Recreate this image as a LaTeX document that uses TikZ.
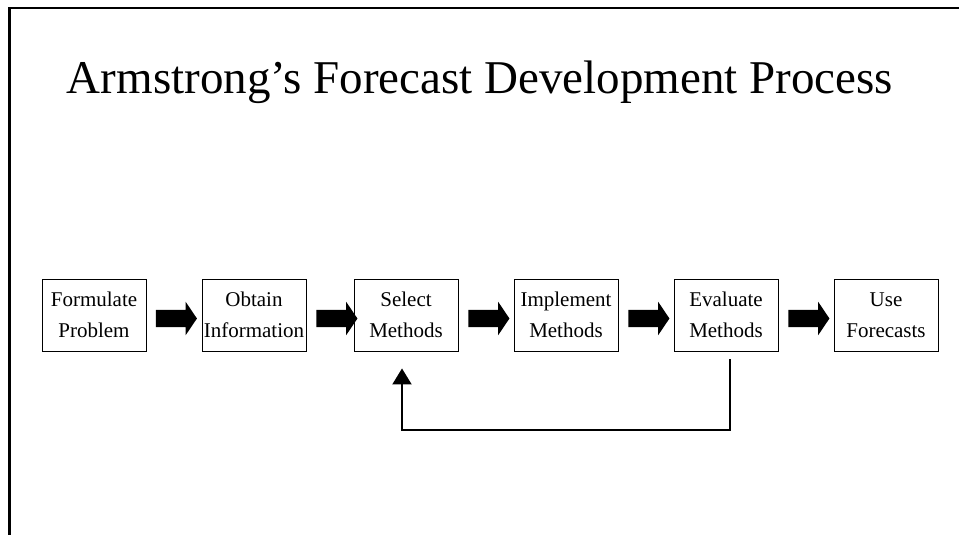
\documentclass[tikz,border=0pt]{standalone}
\usepackage{fontspec}
\setmainfont{Liberation Serif}
\usetikzlibrary{arrows.meta,positioning,calc,shapes.arrows}
\tikzset{
  stepbox/.style={draw,line width=0.9pt,minimum width=104pt,minimum height=72pt,
    inner sep=0pt,align=center,font=\fontsize{21}{31}\selectfont},
  blockarrow/.style={single arrow,fill=black,draw=none,inner xsep=0pt,inner ysep=8.5pt,
    minimum height=41pt,single arrow head extend=8pt,single arrow tip angle=112},
  fbline/.style={line width=2pt,-{Triangle[width=19pt,length=16pt]}}
}
\begin{document}
\begin{tikzpicture}[x=1pt,y=-1pt]
\useasboundingbox (0,0) rectangle (959,535);
% slide frame
\draw[line width=2.2pt] (9.5,535) -- (9.5,8) -- (959,8);
\node[anchor=base,font=\fontsize{47}{56}\selectfont] (title) at (480,93)
  {Armstrong’s Forecast Development Process};
% process steps
\foreach \n/\x/\t in {formulate/94/Formulate\\Problem, obtain/254/Obtain\\Information,
    select/406/Select\\Methods, implement/566/Implement\\Methods,
    evaluate/726/Evaluate\\Methods, use/886/Use\\Forecasts}{
  \node[stepbox] (\n) at (\x,315) {\t};
}
% block arrows between steps
\foreach \x [count=\i] in {173.5,334,486,646,806}{
  \node[blockarrow] (arr\i) at (\x,318.5) {};
}
% feedback loop
\coordinate (fbstart) at ($(evaluate.south)+(4,8)$);
\coordinate (fbend) at ($(select.south)+(-4,17)$);
\draw[fbline] (fbstart) -- ++(0,71) -| (fbend);
\end{tikzpicture}
\end{document}
